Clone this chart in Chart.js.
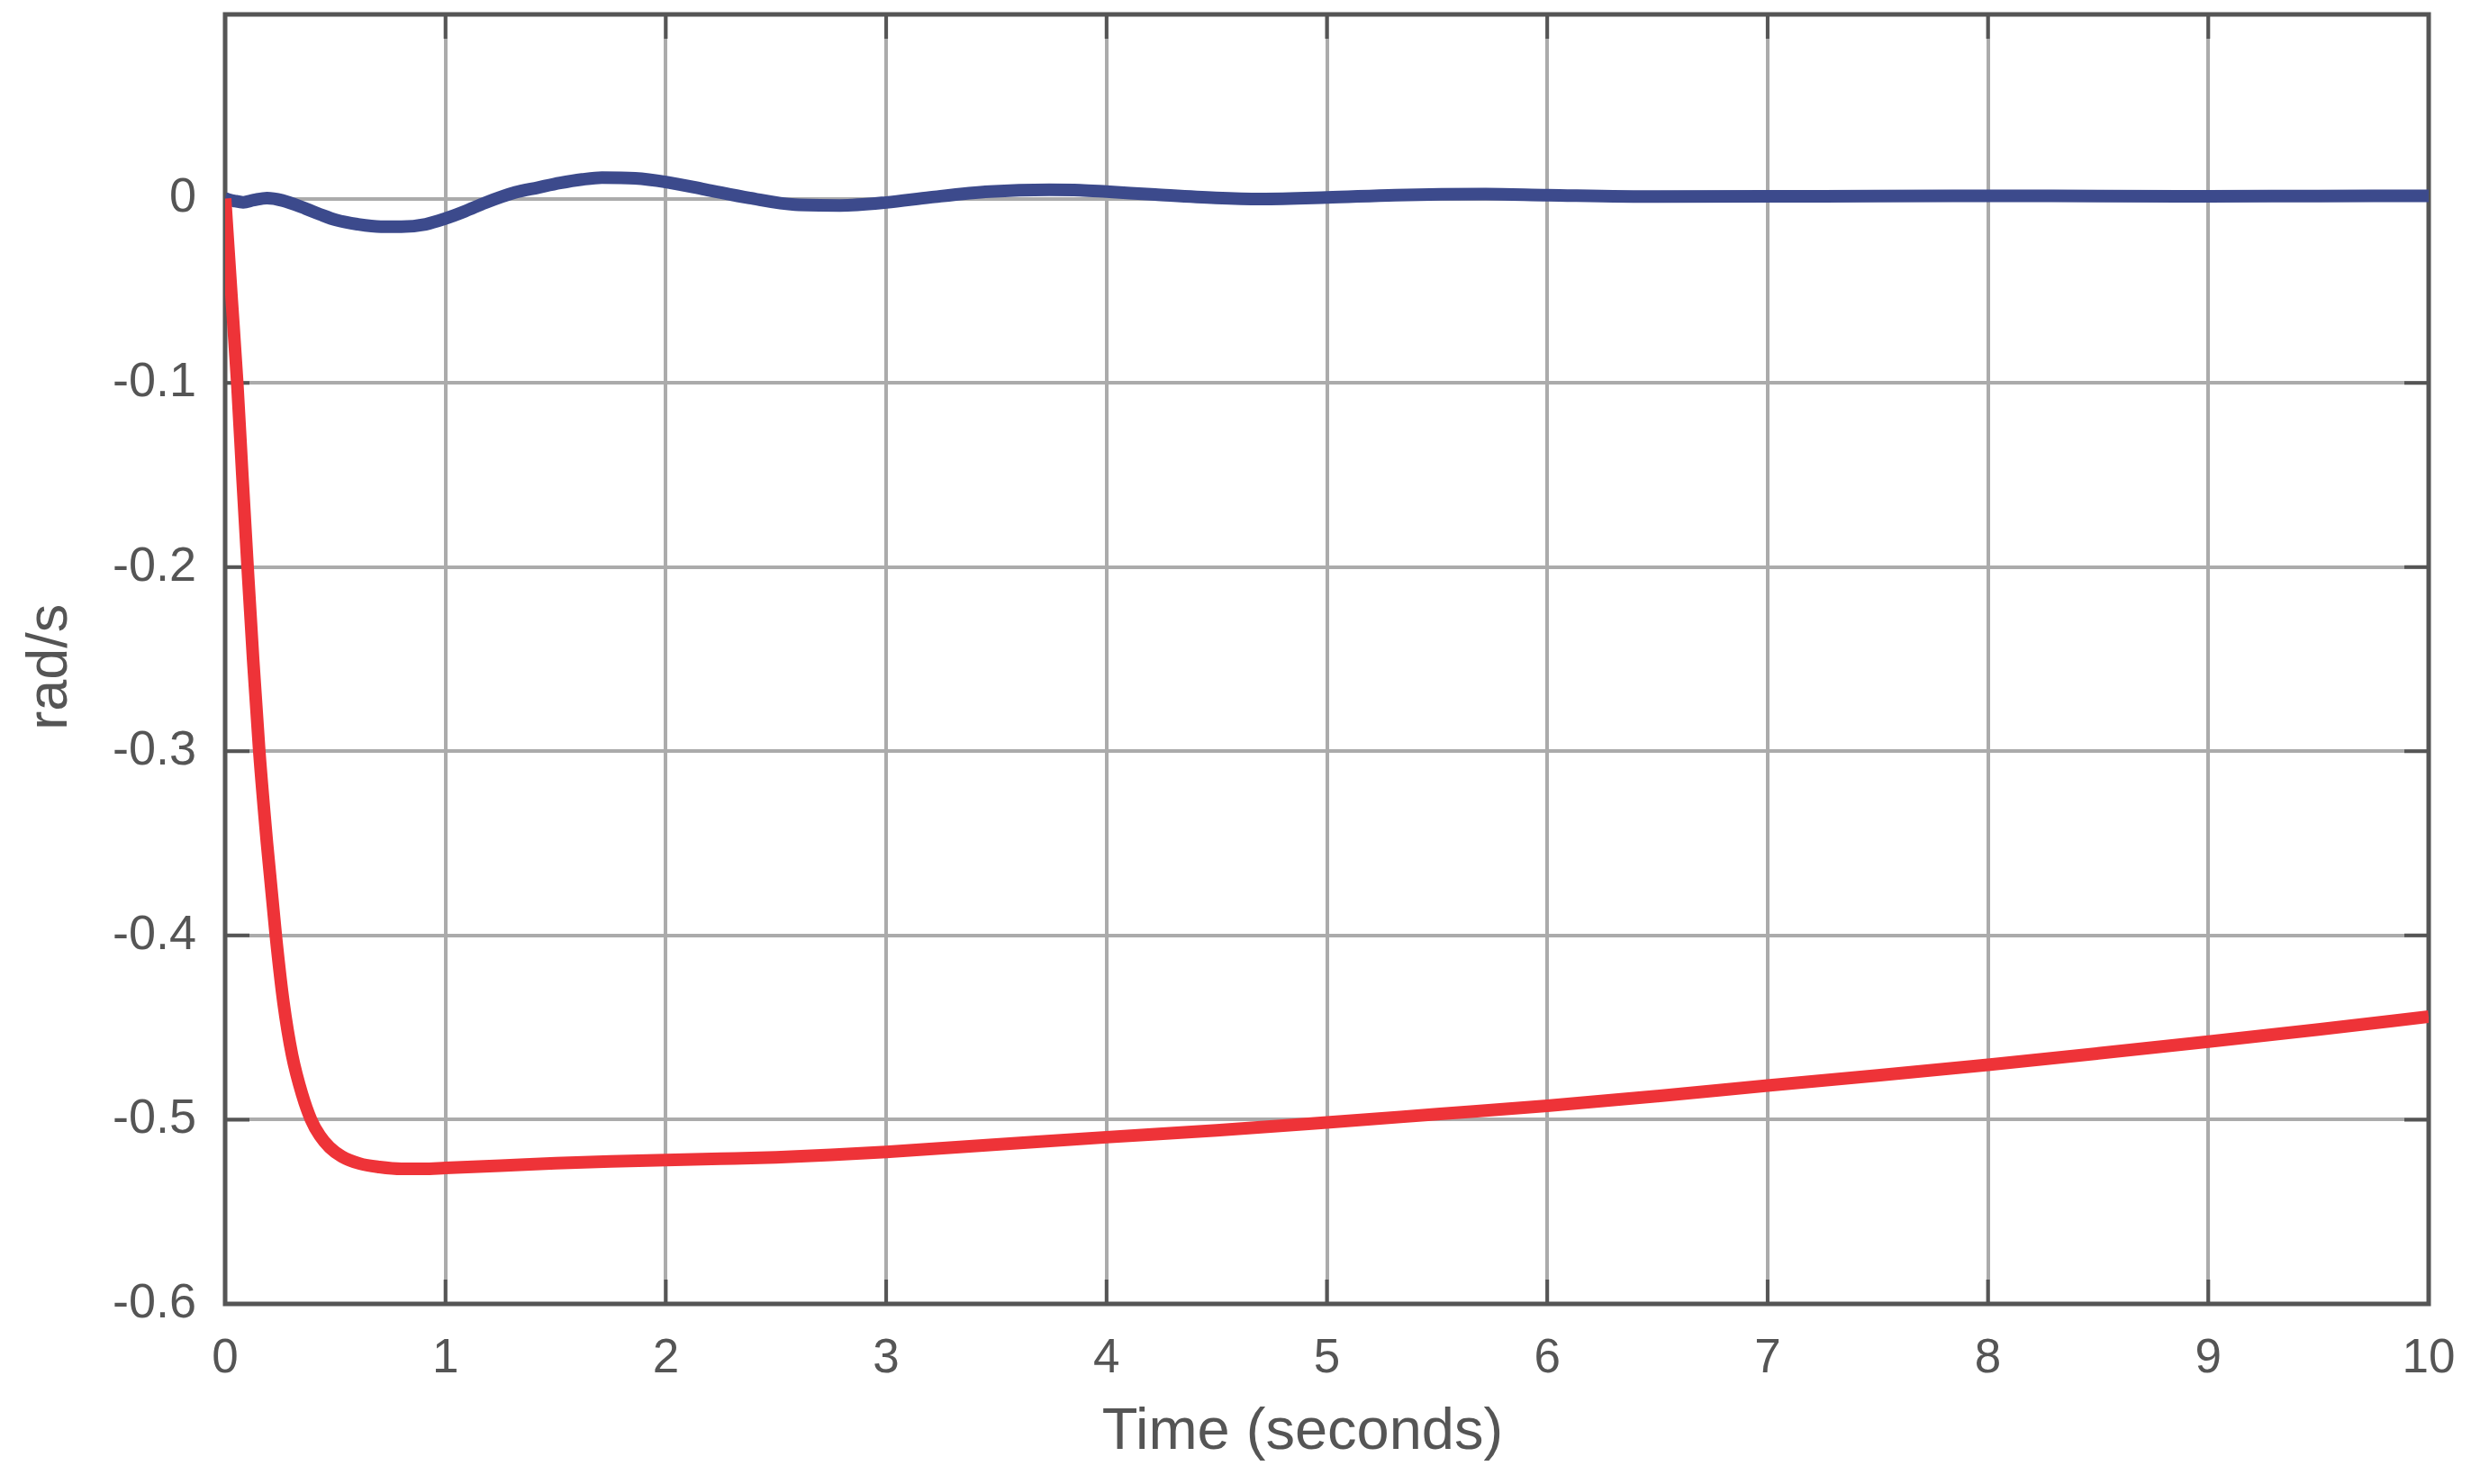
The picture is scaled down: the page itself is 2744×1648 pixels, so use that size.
<!DOCTYPE html>
<html>
<head>
<meta charset="utf-8">
<script src="https://cdn.jsdelivr.net/npm/chart.js@4.4.1/dist/chart.umd.min.js"></script>
<style>
  html, body { margin: 0; padding: 0; background: #ffffff; }
  #wrap { width: 2744px; height: 1648px; position: relative; }
</style>
</head>
<body>
<div id="wrap"><canvas id="c" width="2744" height="1648"></canvas></div>
<script>
// ---- Data ----
const xTickLabels = ['0','1','2','3','4','5','6','7','8','9','10'];
const yTickLabels = ['-0.6','-0.5','-0.4','-0.3','-0.2','-0.1','0'];

const redTime = [0, 0.03, 0.055, 0.078, 0.102, 0.127, 0.155, 0.19, 0.23, 0.265, 0.304, 0.35, 0.39, 0.43, 0.474, 0.53, 0.61, 0.7, 0.8, 0.9, 1.0, 1.25, 1.5, 1.75, 2.0, 2.25, 2.5, 2.75, 3.0, 3.5, 4.0, 4.5, 5.0, 5.5, 6.0, 6.5, 7.0, 7.5, 8.0, 8.5, 9.0, 9.5, 10];
const redValues = [0, -0.055, -0.1, -0.15, -0.2, -0.25, -0.3, -0.35, -0.4, -0.4366, -0.465, -0.4865, -0.5, -0.5087, -0.515, -0.52, -0.5238, -0.5257, -0.5267, -0.5267, -0.5262, -0.525, -0.5236, -0.5226, -0.5219, -0.5212, -0.5204, -0.5191, -0.5175, -0.5135, -0.5095, -0.5058, -0.5015, -0.497, -0.4925, -0.4872, -0.4815, -0.476, -0.4702, -0.464, -0.4576, -0.451, -0.4441];

const blueTime = [0, 0.04, 0.082, 0.13, 0.19, 0.26, 0.367, 0.43, 0.503, 0.6, 0.707, 0.8, 0.91, 1.0, 1.09, 1.18, 1.318, 1.42, 1.52, 1.62, 1.71, 1.86, 2.0, 2.177, 2.38, 2.586, 2.79, 3.0, 3.2, 3.47, 3.74, 3.88, 4.0, 4.22, 4.495, 4.7, 5.0, 5.31, 5.72, 6.0, 6.5, 7.0, 7.5, 8.0, 8.5, 9.0, 9.5, 10];
const blueValues = [0, -0.0012, -0.002, -0.0008, 0.0003, -0.001, -0.0055, -0.0085, -0.0116, -0.0139, -0.0152, -0.0152, -0.0139, -0.0108, -0.0068, -0.0023, 0.0034, 0.006, 0.0085, 0.0104, 0.0114, 0.011, 0.009, 0.005, 0.0003, -0.0033, -0.0037, -0.0021, 0.0007, 0.0038, 0.0048, 0.0046, 0.0038, 0.0022, 0.0004, -0.0002, 0.0006, 0.0019, 0.0025, 0.0019, 0.0011, 0.0012, 0.0014, 0.0015, 0.0014, 0.0013, 0.0014, 0.0015];

const xLabel = 'Time (seconds)';
const yLabel = 'rad/s';

// ---- Styles ----
const FONT = "'Liberation Sans', Arial, Helvetica, sans-serif";
const TEXT = '#555555';
const AXIS = '#555555';
const GRID = '#ababab';
const NBSP = '\u00a0';

const toPts = (t, v) => t.map((x, i) => ({ x: x, y: v[i] }));

const boxPlugin = {
  id: 'boxTicks',
  beforeDatasetsDraw(chart) {
    const { ctx, chartArea: a, scales } = chart;
    const xs = scales.x, ys = scales.y;
    const tl = 27;
    ctx.save();
    ctx.strokeStyle = AXIS;
    ctx.lineWidth = 4;
    ctx.beginPath();
    xs.ticks.forEach(t => {
      const p = xs.getPixelForValue(t.value);
      ctx.moveTo(p, a.bottom); ctx.lineTo(p, a.bottom - tl);
      ctx.moveTo(p, a.top); ctx.lineTo(p, a.top + tl);
    });
    ys.ticks.forEach(t => {
      const p = ys.getPixelForValue(t.value);
      ctx.moveTo(a.left, p); ctx.lineTo(a.left + tl, p);
      ctx.moveTo(a.right, p); ctx.lineTo(a.right - tl, p);
    });
    ctx.stroke();
    ctx.lineWidth = 5;
    ctx.strokeRect(a.left, a.top, a.right - a.left, a.bottom - a.top);
    ctx.restore();
  }
};

new Chart(document.getElementById('c'), {
  type: 'line',
  data: {
    datasets: [
      {
        label: 'red',
        data: toPts(redTime, redValues),
        borderColor: '#ee3338',
        borderWidth: 14,
        pointRadius: 0,
        fill: false,
        cubicInterpolationMode: 'monotone',
        borderCapStyle: 'butt',
        borderJoinStyle: 'round'
      },
      {
        label: 'blue',
        data: toPts(blueTime, blueValues),
        borderColor: '#3c4a8c',
        borderWidth: 14,
        pointRadius: 0,
        fill: false,
        cubicInterpolationMode: 'monotone',
        borderCapStyle: 'butt',
        borderJoinStyle: 'round'
      }
    ]
  },
  options: {
    responsive: false,
    animation: false,
    devicePixelRatio: 1,
    layout: { padding: { top: 16, right: 47, left: 0, bottom: 0 } },
    plugins: { legend: { display: false }, tooltip: { enabled: false } },
    scales: {
      x: {
        type: 'linear',
        min: 0, max: 10,
        afterFit: s => { s.height = 200; s.paddingLeft = 0; s.paddingRight = 0; },
        grid: { color: GRID, lineWidth: 4, drawTicks: false },
        border: { display: false },
        ticks: {
          stepSize: 1,
          padding: 30,
          color: TEXT,
          font: { family: FONT, size: 53 },
          maxRotation: 0,
          callback: (v) => xTickLabels[Math.round(v)]
        },
        title: {
          display: true,
          text: xLabel + NBSP + NBSP + NBSP,
          color: TEXT,
          font: { family: FONT, size: 65 },
          padding: { top: 0, bottom: 18 }
        }
      },
      y: {
        type: 'linear',
        min: -0.6, max: 0.1,
        afterFit: s => { s.width = 250; s.paddingTop = 0; s.paddingBottom = 0; },
        grid: { color: GRID, lineWidth: 4, drawTicks: false },
        border: { display: false },
        ticks: {
          stepSize: 0.1,
          padding: 32,
          color: TEXT,
          font: { family: FONT, size: 54 },
          callback: (v) => {
            const idx = Math.round((v + 0.6) * 10);
            return yTickLabels[idx] !== undefined ? yTickLabels[idx] : '';
          }
        },
        title: {
          display: true,
          text: yLabel + NBSP,
          color: TEXT,
          font: { family: FONT, size: 63 },
          padding: { top: 19, bottom: 0 }
        }
      }
    }
  },
  plugins: [boxPlugin]
});
</script>
</body>
</html>
